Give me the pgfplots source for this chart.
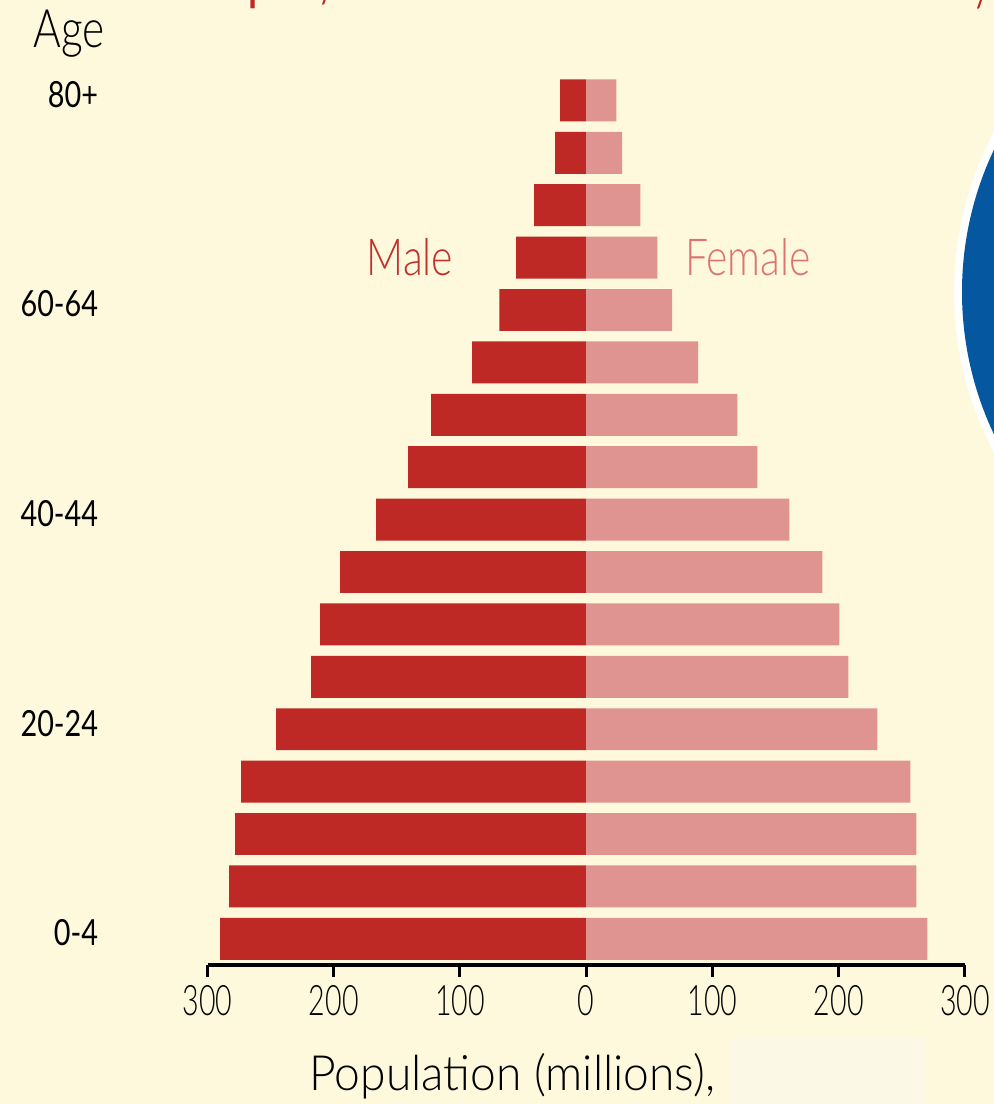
\documentclass[border=0pt]{standalone}
\usepackage{pgfplots}
\pgfplotsset{compat=1.18}
\usepackage{pgfplotstable}
\usepackage{fontspec}
\setmainfont{Lato Light}[FakeStretch=0.8]
\newfontfamily\regf{Lato}[FakeStretch=0.8]
\newfontfamily\tickf{Lato Light}[FakeStretch=0.68]
\newfontfamily\popf{Lato Light}[FakeStretch=0.95]
\definecolor{bg}{HTML}{FEF9DC}
\definecolor{maleC}{HTML}{BE2926}
\definecolor{femC}{HTML}{DF9492}
\definecolor{maleT}{HTML}{C0302C}
\definecolor{femT}{HTML}{DB7370}
\definecolor{blueC}{HTML}{0558A0}
\definecolor{boxC}{HTML}{FBF8E6}
\pgfplotstableread{
idx male female
0 290.0 270.2
1 282.9 261.5
2 278.1 261.5
3 273.4 256.7
4 245.6 230.6
5 217.9 207.6
6 210.8 200.5
7 194.9 187.0
8 166.4 160.9
9 141.0 135.5
10 122.8 119.7
11 90.3 88.7
12 68.9 68.1
13 55.5 56.3
14 41.2 42.8
15 24.6 28.5
16 20.6 23.8
}\pyr
\begin{document}
\begin{tikzpicture}[x=0.5pt,y=-0.5pt]
\useasboundingbox (0,0) rectangle (994,1104);
\fill[bg] (0,0) rectangle (994,1104);
\begin{scope}
\clip (0,0) rectangle (994,1104);
\fill[white] (1294,292) circle[radius=340];
\fill[blueC] (1294,292) circle[radius=332];
\node[anchor=base, text=maleC, inner sep=0pt, font=\regf\fontsize{30}{30}\selectfont] at (261,-2) {p};
\node[anchor=base, text=maleC, inner sep=0pt, font=\fontsize{30}{30}\selectfont] at (328,-6) {y};
\node[anchor=base, text=maleC, inner sep=0pt, font=\fontsize{30}{30}\selectfont] at (983,-2) {y};
\end{scope}
\fill[boxC] (730,1037) rectangle (925,1104);
\begin{axis}[
  at={(103.75pt,-482.5pt)}, anchor=south west,
  scale only axis, width=378.75pt, height=445.4pt,
  xmin=-300, xmax=300, ymin=-0.5, ymax=16.5,
  xbar, bar width=0.8,
  axis x line*=bottom, axis y line*=left,
  x axis line style={-, line width=2.3pt, black},
  y axis line style={draw=none},
  ytick style={draw=none},
  xtick={-300,-200,-100,0,100,200,300},
  xticklabels={300,200,100,0,100,200,300},
  tick align=outside, major tick length=6pt,
  xtick style={line width=1.5pt, black},
  /pgf/number format/assume math mode=true,
  xticklabel style={anchor=north, inner sep=0pt, yshift=-4pt, font=\tickf\fontsize{21}{21}\selectfont},
  ytick={0,4,8,12,16},
  yticklabels={0-4,20-24,40-44,60-64,80+},
  yticklabel style={anchor=east, inner sep=0pt, xshift=-48.5pt, yshift=3pt, font=\regf\fontsize{18}{18}\selectfont},
  clip=false,
]
\addplot[xbar, bar shift=0pt, fill=maleC, draw=none] table[x expr=-\thisrow{male}, y=idx] {\pyr};
\addplot[xbar, bar shift=0pt, fill=femC, draw=none] table[x=female, y=idx] {\pyr};
\end{axis}
\node[anchor=base, text=maleT, font=\fontsize{25.5}{25.5}\selectfont] at (410,275) {Male};
\node[anchor=base, text=femT, font=\fontsize{25.5}{25.5}\selectfont] at (748,275) {Female};
\node[anchor=base, font=\popf\fontsize{24.3}{24.3}\selectfont] at (512.5,1090) {Population (millions),};
\node[anchor=base, font=\fontsize{26.5}{26.5}\selectfont] at (69,47) {Age};
\end{tikzpicture}
\end{document}
